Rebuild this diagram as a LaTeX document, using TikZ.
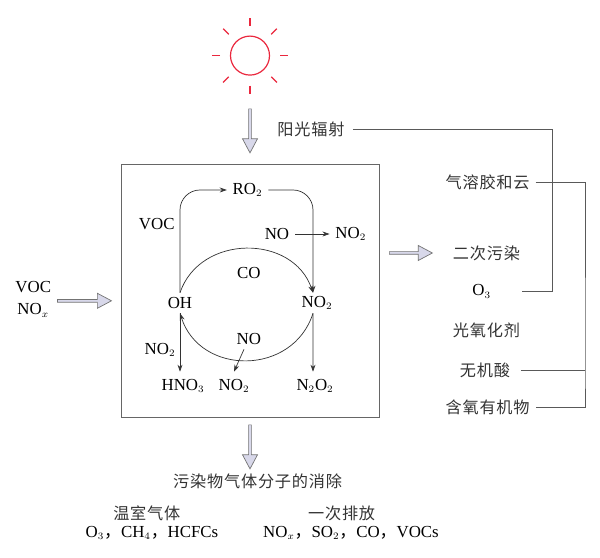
\documentclass[tikz,border=0pt]{standalone}
\usepackage{fontspec}
\setmainfont{Liberation Serif}
\newfontfamily\cjk[LetterSpace=5]{Noto Sans CJK SC}
\usetikzlibrary{arrows.meta,positioning,shapes.arrows}
\definecolor{sunred}{RGB}{234,40,62}
\definecolor{blockfill}{RGB}{216,216,234}
\DeclareMathSizes{12}{12}{7}{5}
\newcommand{\cnc}{{\cjk ，}}

\begin{document}
\begin{tikzpicture}[
      lab/.style={font=\fontsize{12}{14}\selectfont, inner xsep=4pt, inner ysep=1pt, minimum height=0.5cm, align=center},
      prod/.style={lab, minimum height=0.7cm},
      cn/.style={font=\fontsize{11.5}{13}\selectfont\cjk, text=black!80, inner xsep=4pt, inner ysep=1pt, minimum height=0.5cm},
      frame/.style={draw=black!60, line width=0.6pt, minimum width=6.44cm, minimum height=6.31cm},
      arr/.style={-{Stealth[length=5pt,width=3.5pt]}, black!80, line width=0.5pt},
      conn/.style={black!65, line width=0.6pt},
      blockarr/.style={single arrow, draw=black!55, fill=blockfill, line width=0.5pt, inner sep=0.02cm, outer sep=0pt,
                  minimum width=0.375cm, single arrow head extend=0.13cm, single arrow tip angle=56, single arrow head indent=0pt},
      sunray/.style={sunred, line width=0.85pt}
    ]
      \useasboundingbox (0,0) rectangle (15,13.95);

      \node[circle, draw=sunred, line width=0.85pt, minimum size=0.975cm, inner sep=0pt] (sun) at (6.25,12.56) {};
      \foreach \a in {0,45,...,315}
        \draw[sunray] (sun.center) ++(\a:0.75) -- ++(\a:0.2);

      \node[blockarr, minimum height=1.1cm, rotate=-90] (sunarr) at (6.25,10.71) {};
      \node[blockarr, minimum height=1.35cm] (inarr) at (2.08,6.43) {};
      \node[blockarr, minimum height=1.075cm] (outarr) at (10.24,7.625) {};
      \node[blockarr, minimum height=1.1cm, rotate=-90] (botarr) at (6.25,2.81) {};

      \node[frame] (smog) at (6.256,6.68) {};

      \node[lab] (ro2) at (6.19,9.2) {RO$_2$};
      \node[lab] (voc) at (3.92,8.35) {VOC};
      \node[lab] (noa) at (6.925,8.1) {NO};
      \node[lab] (no2a) at (8.77,8.1) {NO$_2$};
      \node[lab] (co) at (6.22,7.13) {CO};
      \node[lab] (oh) at (4.5,6.375) {OH};
      \node[lab] (no2r) at (7.925,6.375) {NO$_2$};
      \node[lab] (nob) at (6.22,5.475) {NO};
      \node[lab] (no2l) at (4.0,5.2) {NO$_2$};
      \node[prod] (hno3) at (4.575,4.3) {HNO$_3$};
      \node[prod] (no2b) at (5.85,4.3) {NO$_2$};
      \node[prod] (n2o2) at (7.875,4.3) {N$_2$O$_2$};

      \draw[arr, rounded corners=0.5cm] (oh.north) |- (ro2.west);
      \draw[arr, rounded corners=0.5cm] (ro2.east) -| ([xshift=-0.1cm]no2r.north);
      \draw[arr] (noa) -- (no2a);
      \draw[arr] (oh.north) .. controls +(0.5,1.47) and +(-0.5,1.47) .. ([xshift=-0.1cm]no2r.north);
      \draw[arr] ([xshift=-0.1cm]no2r.south) .. controls +(-0.5,-1.57) and +(0.5,-1.57) .. (oh.south);
      \draw[arr] (oh.south) -- (oh.south |- hno3.north);
      \draw[arr] ([xshift=-0.12cm]nob.south) -- (no2b.north);
      \draw[arr] ([xshift=-0.1cm]no2r.south) -- ([xshift=-0.05cm]n2o2.north);

      \node[lab] (feed) at (0.83,6.47) {VOC\\[2pt]NO$_x$};

      \node[cn] (light) at (7.775,10.725) {阳光辐射};
      \node[cn] (aero) at (12.19,9.4) {气溶胶和云};
      \node[cn] (second) at (12.16,7.625) {二次污染};
      \node[lab] (o3) at (12.04,6.66) {O$_3$};
      \node[cn] (oxid) at (12.16,5.68) {光氧化剂};
      \node[cn] (acid) at (12.125,4.68) {无机酸};
      \node[cn] (orgn) at (12.19,3.775) {含氧有机物};

      \coordinate (trunka) at (13.82,6.66);
      \coordinate (trunkb) at (14.625,4.68);
      \draw[conn] ([xshift=0.06cm]light.east) -| (trunka) -- ([xshift=0.64cm]o3.east);
      \draw[conn] (aero.east) -| (trunkb) |- (orgn.east);
      \draw[conn] ([xshift=0.12cm]acid.east) -- (trunkb);

      \node[cn] (elim) at (6.44,1.925) {污染物气体分子的消除};
      \node[cn] (ghg) at (3.67,1.125) {温室气体};
      \node[cn] (prim) at (8.54,1.125) {一次排放};
      \node[lab] (ghglist) at (3.8,0.625) {O$_3$\cnc CH$_4$\cnc HCFCs};
      \node[lab] (primlist) at (8.775,0.625) {NO$_x$\cnc SO$_2$\cnc CO\cnc VOCs};
    \end{tikzpicture}
\end{document}
